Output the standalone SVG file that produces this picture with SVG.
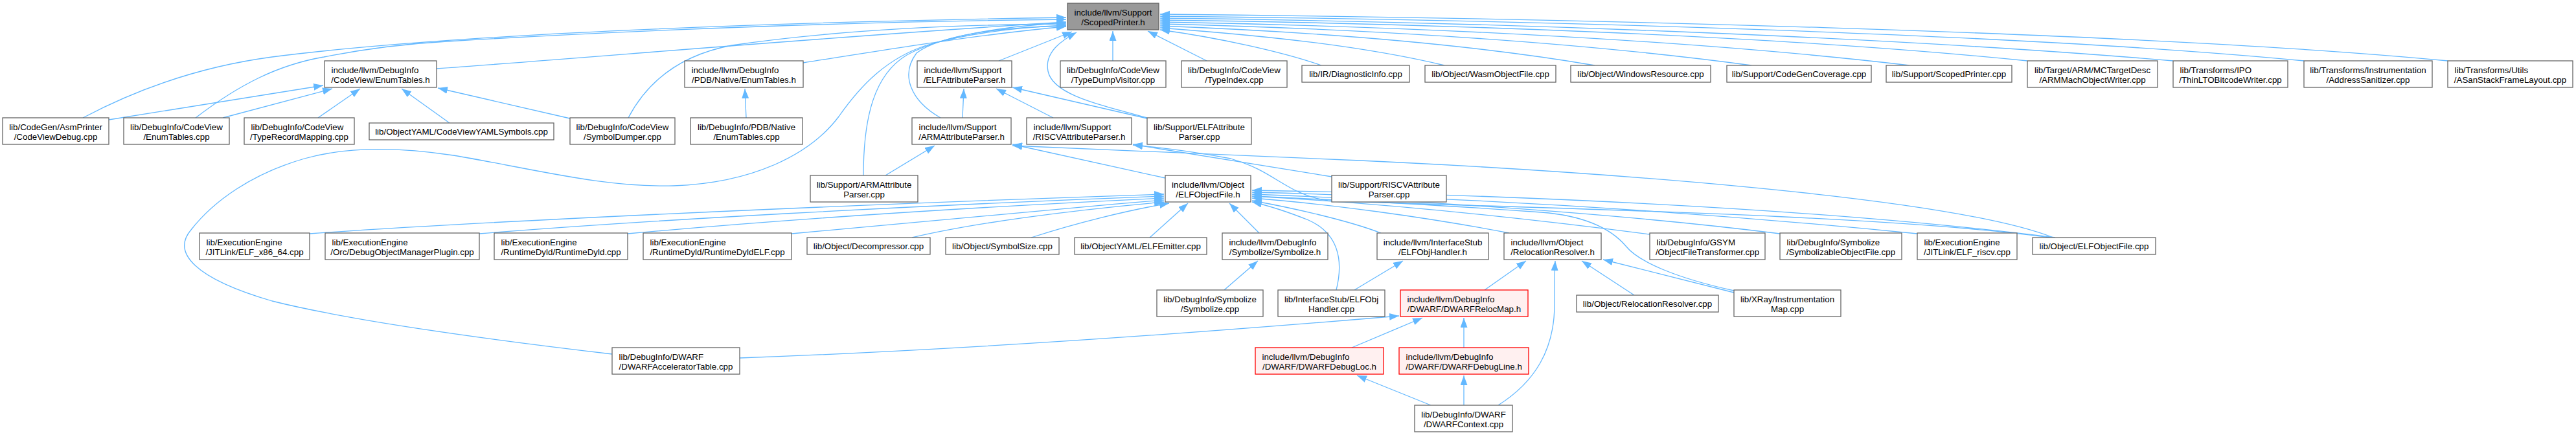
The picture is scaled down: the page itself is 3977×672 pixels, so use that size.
<svg xmlns="http://www.w3.org/2000/svg" width="3977" height="672" viewBox="0 0 3977 672">
<style>
.n rect{fill:#ffffff;stroke:#666666;stroke-width:1.3}
.root rect{fill:#999999;stroke:#666666;stroke-width:1.3}
.red rect{fill:#fff0f0;stroke:#ff0000;stroke-width:1.3}
text{font-family:"Liberation Sans",Arial,Helvetica,sans-serif;font-size:13.33px;fill:#000000}
.m{text-anchor:middle}
.s{text-anchor:start}
#edges path{fill:none;stroke:#63b8ff;stroke-width:1.3;marker-end:url(#ah)}
</style>
<defs>
<marker id="ah" markerUnits="userSpaceOnUse" markerWidth="16" markerHeight="12" refX="15" refY="5.5" orient="auto">
<path d="M0,0 L15,5.5 L0,11 z" fill="#63b8ff" stroke="none"/>
</marker>
</defs>
<rect width="3977" height="672" fill="#ffffff"/>
<g id="edges">
<path d="M128,182 C230,128 330,100 420,88 C700,52 1200,34 1646,27"/>
<path d="M302,182 C370,130 430,100 500,88 C560,76 620,68 690,64 C1000,45 1350,33 1646,30"/>
<path d="M674,106 C900,90 1300,55 1646,34"/>
<path d="M970,182 C1000,125 1050,85 1130,70 C1300,45 1480,38 1646,37"/>
<path d="M1240,97 C1380,75 1520,52 1646,41"/>
<path d="M1452,182 C1405,155 1390,115 1415,82 C1450,55 1540,42 1646,40"/>
<path d="M1333,271 C1333,180 1350,115 1400,85 C1460,52 1560,40 1646,35"/>
<path d="M945,547 C800,530 560,500 420,465 C300,430 265,390 295,355 C330,310 390,268 470,245 C540,225 620,228 700,240 C820,260 930,290 1040,287 C1160,283 1250,240 1295,180 C1330,130 1370,90 1430,70 C1500,50 1570,42 1646,39"/>
<path d="M1542,94 L1655,49"/>
<path d="M1718,94 L1718,48"/>
<path d="M1863,94 L1772,48"/>
<path d="M1771,182 C1690,160 1625,145 1618,110 C1612,80 1640,62 1662,50"/>
<path d="M2040,101 C1980,80 1880,58 1791,46"/>
<path d="M2230,101 C2100,70 1950,55 1791,43"/>
<path d="M2462,101 C2250,65 2000,48 1791,40"/>
<path d="M2704,101 C2400,60 2050,43 1791,37"/>
<path d="M2948,101 C2600,60 2150,40 1791,34"/>
<path d="M3130,94 C2750,55 2200,36 1791,31"/>
<path d="M3355,94 C2900,55 2250,33 1791,28"/>
<path d="M3557,94 C3100,50 2300,30 1791,25"/>
<path d="M3779,94 C3300,48 2350,27 1791,22"/>
<path d="M168,185 L499,132"/>
<path d="M344,182 L513,137"/>
<path d="M491,182 L556,137"/>
<path d="M694,190 L620,137"/>
<path d="M880,183 L676,136"/>
<path d="M1152,182 L1150,137"/>
<path d="M1486,182 L1488,137"/>
<path d="M1626,182 L1538,137"/>
<path d="M1771,183 L1563,135"/>
<path d="M1367,271 L1443,225"/>
<path d="M1799,275 L1563,223"/>
<path d="M3170,367 C3000,300 2400,262 2100,248 C1900,238 1700,232 1563,225"/>
<path d="M2056,273 C1950,255 1850,240 1749,223"/>
<path d="M3165,367 C2900,330 2300,320 2050,310 C1985,300 1970,265 1900,245 C1830,232 1790,228 1749,224"/>
<path d="M478,361 C700,345 1200,320 1797,300"/>
<path d="M740,361 C1000,340 1400,318 1797,303"/>
<path d="M969,361 C1200,340 1500,320 1797,306"/>
<path d="M1222,361 C1400,345 1600,325 1797,309"/>
<path d="M1408,367 C1500,345 1650,325 1797,312"/>
<path d="M1592,367 C1660,345 1740,325 1805,314"/>
<path d="M1775,367 L1834,314"/>
<path d="M1944,360 L1898,314"/>
<path d="M2132,360 C2080,340 1990,320 1933,310"/>
<path d="M2063,448 C2075,400 2065,360 2020,340 C1990,328 1960,318 1933,312"/>
<path d="M2330,360 C2200,335 2050,315 1933,306"/>
<path d="M2547,362 C2300,330 2100,312 1933,303"/>
<path d="M2748,361 C2500,330 2200,310 1933,300"/>
<path d="M2960,361 C2600,325 2250,305 1933,297"/>
<path d="M3173,367 C2800,320 2300,300 1933,294"/>
<path d="M2677,449 C2590,430 2530,405 2510,380 C2480,345 2430,332 2380,328 C2200,315 2050,308 1933,303"/>
<path d="M1890,448 L1942,403"/>
<path d="M2091,448 L2166,403"/>
<path d="M2292,448 L2356,403"/>
<path d="M2523,456 L2442,403"/>
<path d="M2677,452 L2475,401"/>
<path d="M2313,626 C2370,590 2400,540 2400,470 C2400,440 2400,420 2401,403"/>
<path d="M1142,553 C1500,540 1900,510 2160,488"/>
<path d="M2087,537 L2196,491"/>
<path d="M2260,537 L2260,491"/>
<path d="M2209,626 L2095,580"/>
<path d="M2260,626 L2260,580"/>
</g>
<g id="n0" class="root"><rect x="1648" y="5" width="141" height="41"/><text class="m" x="1718.5" y="23.5">include/llvm/Support</text><text class="m" x="1718.5" y="38.5">/ScopedPrinter.h</text></g>
<g id="n1" class="n"><rect x="501" y="94" width="173" height="41"/><text class="s" x="511.5" y="112.5">include/llvm/DebugInfo</text><text class="m" x="587.5" y="127.5">/CodeView/EnumTables.h</text></g>
<g id="n2" class="n"><rect x="1057" y="94" width="183" height="41"/><text class="s" x="1067.5" y="112.5">include/llvm/DebugInfo</text><text class="m" x="1148.5" y="127.5">/PDB/Native/EnumTables.h</text></g>
<g id="n3" class="n"><rect x="1416" y="94" width="146" height="41"/><text class="s" x="1426.5" y="112.5">include/llvm/Support</text><text class="m" x="1489" y="127.5">/ELFAttributeParser.h</text></g>
<g id="n4" class="n"><rect x="1637" y="94" width="163" height="41"/><text class="m" x="1718.5" y="112.5">lib/DebugInfo/CodeView</text><text class="m" x="1718.5" y="127.5">/TypeDumpVisitor.cpp</text></g>
<g id="n5" class="n"><rect x="1824" y="94" width="163" height="41"/><text class="m" x="1905.5" y="112.5">lib/DebugInfo/CodeView</text><text class="m" x="1905.5" y="127.5">/TypeIndex.cpp</text></g>
<g id="n6" class="n"><rect x="2010" y="101" width="166" height="26"/><text class="m" x="2093" y="118.5">lib/IR/DiagnosticInfo.cpp</text></g>
<g id="n7" class="n"><rect x="2200" y="101" width="202" height="26"/><text class="m" x="2301" y="118.5">lib/Object/WasmObjectFile.cpp</text></g>
<g id="n8" class="n"><rect x="2425" y="101" width="216" height="26"/><text class="m" x="2533" y="118.5">lib/Object/WindowsResource.cpp</text></g>
<g id="n9" class="n"><rect x="2666" y="101" width="223" height="26"/><text class="m" x="2777.5" y="118.5">lib/Support/CodeGenCoverage.cpp</text></g>
<g id="n10" class="n"><rect x="2912" y="101" width="194" height="26"/><text class="m" x="3009" y="118.5">lib/Support/ScopedPrinter.cpp</text></g>
<g id="n11" class="n"><rect x="3130" y="94" width="201" height="41"/><text class="m" x="3230.5" y="112.5">lib/Target/ARM/MCTargetDesc</text><text class="m" x="3230.5" y="127.5">/ARMMachObjectWriter.cpp</text></g>
<g id="n12" class="n"><rect x="3355" y="94" width="177" height="41"/><text class="s" x="3365.5" y="112.5">lib/Transforms/IPO</text><text class="m" x="3443.5" y="127.5">/ThinLTOBitcodeWriter.cpp</text></g>
<g id="n13" class="n"><rect x="3557" y="94" width="198" height="41"/><text class="m" x="3656" y="112.5">lib/Transforms/Instrumentation</text><text class="m" x="3656" y="127.5">/AddressSanitizer.cpp</text></g>
<g id="n14" class="n"><rect x="3779" y="94" width="193" height="41"/><text class="s" x="3789.5" y="112.5">lib/Transforms/Utils</text><text class="m" x="3875.5" y="127.5">/ASanStackFrameLayout.cpp</text></g>
<g id="n15" class="n"><rect x="4" y="182" width="164" height="41"/><text class="m" x="86" y="200.5">lib/CodeGen/AsmPrinter</text><text class="m" x="86" y="215.5">/CodeViewDebug.cpp</text></g>
<g id="n16" class="n"><rect x="191" y="182" width="163" height="41"/><text class="m" x="272.5" y="200.5">lib/DebugInfo/CodeView</text><text class="m" x="272.5" y="215.5">/EnumTables.cpp</text></g>
<g id="n17" class="n"><rect x="377" y="182" width="170" height="41"/><text class="s" x="387.5" y="200.5">lib/DebugInfo/CodeView</text><text class="m" x="462" y="215.5">/TypeRecordMapping.cpp</text></g>
<g id="n18" class="n"><rect x="570" y="190" width="285" height="26"/><text class="m" x="712.5" y="207.5">lib/ObjectYAML/CodeViewYAMLSymbols.cpp</text></g>
<g id="n19" class="n"><rect x="880" y="182" width="162" height="41"/><text class="m" x="961" y="200.5">lib/DebugInfo/CodeView</text><text class="m" x="961" y="215.5">/SymbolDumper.cpp</text></g>
<g id="n20" class="n"><rect x="1066" y="182" width="173" height="41"/><text class="m" x="1152.5" y="200.5">lib/DebugInfo/PDB/Native</text><text class="m" x="1152.5" y="215.5">/EnumTables.cpp</text></g>
<g id="n21" class="n"><rect x="1408" y="182" width="153" height="41"/><text class="s" x="1418.5" y="200.5">include/llvm/Support</text><text class="m" x="1484.5" y="215.5">/ARMAttributeParser.h</text></g>
<g id="n22" class="n"><rect x="1585" y="182" width="162" height="41"/><text class="s" x="1595.5" y="200.5">include/llvm/Support</text><text class="m" x="1666" y="215.5">/RISCVAttributeParser.h</text></g>
<g id="n23" class="n"><rect x="1771" y="182" width="161" height="41"/><text class="m" x="1851.5" y="200.5">lib/Support/ELFAttribute</text><text class="m" x="1851.5" y="215.5">Parser.cpp</text></g>
<g id="n24" class="n"><rect x="1251" y="271" width="166" height="41"/><text class="m" x="1334" y="289.5">lib/Support/ARMAttribute</text><text class="m" x="1334" y="304.5">Parser.cpp</text></g>
<g id="n25" class="n"><rect x="1799" y="271" width="132" height="41"/><text class="m" x="1865" y="289.5">include/llvm/Object</text><text class="m" x="1865" y="304.5">/ELFObjectFile.h</text></g>
<g id="n26" class="n"><rect x="2056" y="271" width="177" height="41"/><text class="m" x="2144.5" y="289.5">lib/Support/RISCVAttribute</text><text class="m" x="2144.5" y="304.5">Parser.cpp</text></g>
<g id="n27" class="n"><rect x="308" y="360" width="170" height="41"/><text class="s" x="318.5" y="378.5">lib/ExecutionEngine</text><text class="m" x="393" y="393.5">/JITLink/ELF_x86_64.cpp</text></g>
<g id="n28" class="n"><rect x="502" y="360" width="238" height="41"/><text class="s" x="512.5" y="378.5">lib/ExecutionEngine</text><text class="m" x="621" y="393.5">/Orc/DebugObjectManagerPlugin.cpp</text></g>
<g id="n29" class="n"><rect x="763" y="360" width="206" height="41"/><text class="s" x="773.5" y="378.5">lib/ExecutionEngine</text><text class="m" x="866" y="393.5">/RuntimeDyld/RuntimeDyld.cpp</text></g>
<g id="n30" class="n"><rect x="993" y="360" width="229" height="41"/><text class="s" x="1003.5" y="378.5">lib/ExecutionEngine</text><text class="m" x="1107.5" y="393.5">/RuntimeDyld/RuntimeDyldELF.cpp</text></g>
<g id="n31" class="n"><rect x="1246" y="367" width="190" height="26"/><text class="m" x="1341" y="384.5">lib/Object/Decompressor.cpp</text></g>
<g id="n32" class="n"><rect x="1460" y="367" width="175" height="26"/><text class="m" x="1547.5" y="384.5">lib/Object/SymbolSize.cpp</text></g>
<g id="n33" class="n"><rect x="1659" y="367" width="204" height="26"/><text class="m" x="1761" y="384.5">lib/ObjectYAML/ELFEmitter.cpp</text></g>
<g id="n34" class="n"><rect x="1887" y="360" width="163" height="41"/><text class="s" x="1897.5" y="378.5">include/llvm/DebugInfo</text><text class="m" x="1968.5" y="393.5">/Symbolize/Symbolize.h</text></g>
<g id="n35" class="n"><rect x="2126" y="360" width="172" height="41"/><text class="m" x="2212" y="378.5">include/llvm/InterfaceStub</text><text class="m" x="2212" y="393.5">/ELFObjHandler.h</text></g>
<g id="n36" class="n"><rect x="2322" y="360" width="150" height="41"/><text class="s" x="2332.5" y="378.5">include/llvm/Object</text><text class="m" x="2397" y="393.5">/RelocationResolver.h</text></g>
<g id="n37" class="n"><rect x="2547" y="360" width="178" height="41"/><text class="s" x="2557.5" y="378.5">lib/DebugInfo/GSYM</text><text class="m" x="2636" y="393.5">/ObjectFileTransformer.cpp</text></g>
<g id="n38" class="n"><rect x="2748" y="360" width="188" height="41"/><text class="s" x="2758.5" y="378.5">lib/DebugInfo/Symbolize</text><text class="m" x="2842" y="393.5">/SymbolizableObjectFile.cpp</text></g>
<g id="n39" class="n"><rect x="2960" y="360" width="154" height="41"/><text class="s" x="2970.5" y="378.5">lib/ExecutionEngine</text><text class="m" x="3037" y="393.5">/JITLink/ELF_riscv.cpp</text></g>
<g id="n40" class="n"><rect x="3138" y="367" width="190" height="26"/><text class="m" x="3233" y="384.5">lib/Object/ELFObjectFile.cpp</text></g>
<g id="n41" class="n"><rect x="1786" y="448" width="164" height="41"/><text class="m" x="1868" y="466.5">lib/DebugInfo/Symbolize</text><text class="m" x="1868" y="481.5">/Symbolize.cpp</text></g>
<g id="n42" class="n"><rect x="1973" y="448" width="165" height="41"/><text class="m" x="2055.5" y="466.5">lib/InterfaceStub/ELFObj</text><text class="m" x="2055.5" y="481.5">Handler.cpp</text></g>
<g id="n43" class="red"><rect x="2162" y="448" width="197" height="41"/><text class="s" x="2172.5" y="466.5">include/llvm/DebugInfo</text><text class="m" x="2260.5" y="481.5">/DWARF/DWARFRelocMap.h</text></g>
<g id="n44" class="n"><rect x="2434" y="456" width="219" height="26"/><text class="m" x="2543.5" y="473.5">lib/Object/RelocationResolver.cpp</text></g>
<g id="n45" class="n"><rect x="2677" y="448" width="165" height="41"/><text class="m" x="2759.5" y="466.5">lib/XRay/Instrumentation</text><text class="m" x="2759.5" y="481.5">Map.cpp</text></g>
<g id="n46" class="n"><rect x="945" y="537" width="197" height="41"/><text class="s" x="955.5" y="555.5">lib/DebugInfo/DWARF</text><text class="m" x="1043.5" y="570.5">/DWARFAcceleratorTable.cpp</text></g>
<g id="n47" class="red"><rect x="1938" y="537" width="198" height="41"/><text class="s" x="1948.5" y="555.5">include/llvm/DebugInfo</text><text class="m" x="2037" y="570.5">/DWARF/DWARFDebugLoc.h</text></g>
<g id="n48" class="red"><rect x="2160" y="537" width="200" height="41"/><text class="s" x="2170.5" y="555.5">include/llvm/DebugInfo</text><text class="m" x="2260" y="570.5">/DWARF/DWARFDebugLine.h</text></g>
<g id="n49" class="n"><rect x="2184" y="626" width="151" height="41"/><text class="m" x="2259.5" y="644.5">lib/DebugInfo/DWARF</text><text class="m" x="2259.5" y="659.5">/DWARFContext.cpp</text></g>
</svg>
